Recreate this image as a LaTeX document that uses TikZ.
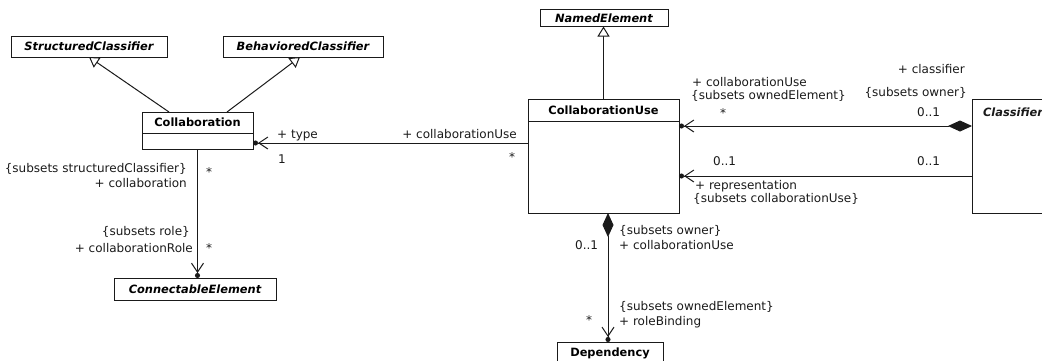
\documentclass[tikz,border=0pt]{standalone}
\usepackage{fontspec}
\setmainfont{DejaVu Sans}[ItalicFont={DejaVu Sans Oblique},BoldFont={DejaVu Sans Bold},BoldItalicFont={DejaVu Sans Bold Oblique}]
\usepackage{tikz}
\usetikzlibrary{arrows.meta,positioning}
\definecolor{tinta}{HTML}{1A1A1A}

\begin{document}
\begin{tikzpicture}[x=1pt,y=-1pt,
    clase/.style={draw=tinta,line width=1pt,fill=white,inner sep=0pt,outer sep=0pt,font=\fontsize{11.4}{13}\selectfont\bfseries},
    abstracta/.style={clase,font=\fontsize{11.4}{13}\selectfont\bfseries\itshape},
    etq/.style={inner sep=0pt,text=tinta,font=\fontsize{12}{14}\selectfont},
    gen/.style={-{Triangle[open,fill=white,length=10pt,width=12pt]},line width=1pt,tinta},
    nav/.style={-{Straight Barb[length=9pt,width=12pt]Circle[length=5pt]},line width=1pt,tinta},
    comp/.style={{Diamond[length=24pt,width=11pt]}-{Straight Barb[length=9pt,width=12pt]Circle[length=5pt]},line width=1pt,tinta}]
    \useasboundingbox (0,0) rectangle (1042,360);
    % clases
    \node[abstracta,minimum width=156pt,minimum height=21pt] (struct) at (89,46.5) {StructuredClassifier};
    \node[abstracta,minimum width=160pt,minimum height=21pt] (behav) at (303,46.5) {BehavioredClassifier};
    \node[clase,minimum width=111pt,minimum height=21pt] (collab) at (197.5,122.5) {Collaboration};
    \node[clase,minimum width=111pt,minimum height=16pt,below=0pt of collab] (collabBody) {};
    \node[abstracta,minimum width=162pt,minimum height=22pt] (conn) at (195,289) {ConnectableElement};
    \node[abstracta,minimum width=128pt,minimum height=17pt] (named) at (604,18) {NamedElement};
    \node[clase,minimum width=151pt,minimum height=22pt] (cu) at (603.5,110) {CollaborationUse};
    \node[clase,minimum width=151pt,minimum height=92pt,below=0pt of cu] (cuBody) {};
    \node[clase,minimum width=106pt,minimum height=22pt] (dep) at (610,353) {Dependency};
    \node[clase,minimum width=82pt,minimum height=114pt] (clsf) at (1013,156) {};
    \node[etq,font=\fontsize{11.4}{13}\selectfont\bfseries\itshape,below=9pt of clsf.north] (clsfName) {Classifier};
    % puntos de anclaje
    \coordinate (collabR) at ([yshift=-2pt]collabBody.east);
    \coordinate (cuA) at ([yshift=-5pt]cuBody.north east);
    \coordinate (cuB) at ([yshift=-55pt]cuBody.north east);
    \coordinate (cuC) at ([xshift=4.5pt]cuBody.south);
    % conectores
    \draw[gen] ([xshift=-28.5pt]collab.north) -- (struct.south);
    \draw[gen] ([xshift=29.5pt]collab.north) -- ([xshift=-3pt]behav.south);
    \draw[gen] (cu.north) -- (cu.north |- named.south);
    \draw[nav] (cu.west |- collabR) -- (collabR);
    \draw[nav] (collabBody.south) -- (collabBody.south |- conn.north);
    \draw[comp] (clsf.west |- cuA) -- (cuA);
    \draw[nav] (clsf.west |- cuB) -- (cuB);
    \draw[comp] (cuC) -- (cuC |- dep.north);
    % extremos
    \node[etq,anchor=base west] (lType) at (277,138) {+ type};
    \node[etq,anchor=base west] (lTypeM) at (278,163) {1};
    \node[etq,anchor=base east] (lUse) at (517,138) {+ collaborationUse};
    \node[etq,anchor=base] (lUseM) at (512,161) {*};
    \node[etq,anchor=base east] (lColl) at (187,172) {\{subsets structuredClassifier\}};
    \node[etq,anchor=base east] (lColl2) at (187,187) {+ collaboration};
    \node[etq,anchor=base] (lCollM) at (209,176) {*};
    \node[etq,anchor=base east] (lRole) at (190,235) {\{subsets role\}};
    \node[etq,anchor=base east] (lRole2) at (193,252) {+ collaborationRole};
    \node[etq,anchor=base] (lRoleM) at (209,252) {*};
    \node[etq,anchor=base west] (lOwned) at (692,86) {+ collaborationUse};
    \node[etq,anchor=base west] (lOwned2) at (691,99) {\{subsets ownedElement\}};
    \node[etq,anchor=base] (lOwnedM) at (723,117) {*};
    \node[etq,anchor=base east] (lClsf) at (965,73) {+ classifier};
    \node[etq,anchor=base east] (lClsf2) at (967,96) {\{subsets owner\}};
    \node[etq,anchor=base west] (lClsfM) at (917,116) {0..1};
    \node[etq,anchor=base west] (lRepM) at (713,165) {0..1};
    \node[etq,anchor=base west] (lRepC) at (917,165) {0..1};
    \node[etq,anchor=base west] (lRep) at (695,189) {+ representation};
    \node[etq,anchor=base west] (lRep2) at (693,202) {\{subsets collaborationUse\}};
    \node[etq,anchor=base west] (lOwner) at (619,234) {\{subsets owner\}};
    \node[etq,anchor=base west] (lOwner2) at (619,249) {+ collaborationUse};
    \node[etq,anchor=base west] (lOwnerM) at (575,249) {0..1};
    \node[etq,anchor=base west] (lBind) at (619,310) {\{subsets ownedElement\}};
    \node[etq,anchor=base west] (lBind2) at (619,325) {+ roleBinding};
    \node[etq,anchor=base] (lBindM) at (589,324) {*};
\end{tikzpicture}
\end{document}
